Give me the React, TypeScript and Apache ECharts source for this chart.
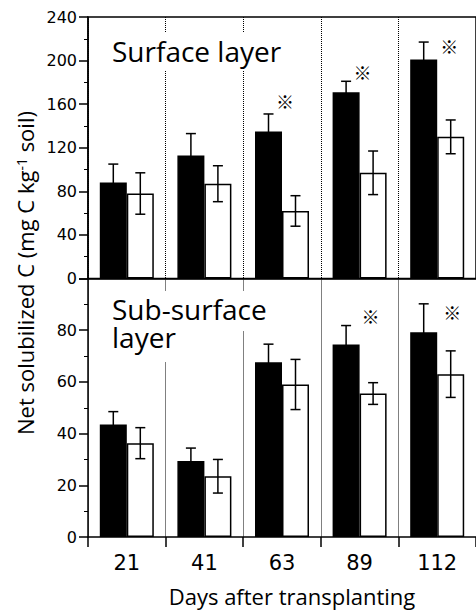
import React, { useEffect, useRef } from 'react';
import * as echarts from 'echarts';

// Days after transplanting
const days = ['21', '41', '63', '89', '112'];

// Surface layer: black bars (A) and white bars (B), means and standard errors
const surfaceMeanA = [88, 113, 135, 171, 201];
const surfaceErrA = [17, 20, 16, 10, 16];
const surfaceMeanB = [78, 87, 62, 97, 130];
const surfaceErrB = [19, 16.5, 14, 20, 15.5];
const surfaceSig = [false, false, true, true, true];

// Sub-surface layer
const subMeanA = [43.5, 29.4, 67.6, 74.5, 79.2];
const subErrA = [5, 5, 7, 7.3, 11];
const subMeanB = [36.3, 23.5, 59, 55.5, 63];
const subErrB = [6, 6.5, 9.7, 4.2, 9];
const subSig = [false, false, false, true, true];

// Axis ranges
const surfaceMax = 240;
const surfaceStep = 40;
const subMax = 100;
const subStep = 20;

// Styles
const BAR_W = 27;
const CAP = 5;
const NUM_FONT = 'DejaVu Sans';
const TXT_FONT = 'Open Sans';
const surfaceSigOffsets: Record<number, [number, number]> = { 2: [3, -13], 3: [3, -9], 4: [12, 4] };
const subSigOffsets: Record<number, [number, number]> = { 3: [11, -10], 4: [15, 8] };

function barSeries(xi: number, yi: number, data: number[], fill: string) {
  return {
    type: 'bar',
    xAxisIndex: xi,
    yAxisIndex: yi,
    data,
    barWidth: BAR_W,
    barGap: '0%',
    itemStyle: { color: fill, borderColor: '#000', borderWidth: 1.5 },
    silent: true,
  };
}

function errorSeries(xi: number, yi: number, means: number[], errs: number[], offset: number) {
  return {
    type: 'custom',
    xAxisIndex: xi,
    yAxisIndex: yi,
    z: 5,
    silent: true,
    data: means.map((m, i) => [i, m, errs[i]]),
    encode: { x: 0, y: 1 },
    renderItem: (_params: any, api: any) => {
      const i = api.value(0);
      const m = api.value(1);
      const e = api.value(2);
      const hi = api.coord([i, m + e]);
      const lo = api.coord([i, m - e]);
      const x = hi[0] + offset;
      const st = { stroke: '#000', lineWidth: 1.5 };
      return {
        type: 'group',
        children: [
          { type: 'line', shape: { x1: x, y1: hi[1], x2: x, y2: lo[1] }, style: st },
          { type: 'line', shape: { x1: x - CAP, y1: hi[1], x2: x + CAP, y2: hi[1] }, style: st },
          { type: 'line', shape: { x1: x - CAP, y1: lo[1], x2: x + CAP, y2: lo[1] }, style: st },
        ],
      };
    },
  };
}

function sigSeries(
  xi: number,
  yi: number,
  sig: boolean[],
  means: number[],
  errs: number[],
  offsets: Record<number, [number, number]>
) {
  const data: number[][] = [];
  sig.forEach((s, i) => {
    if (s) data.push([i, means[i] + errs[i]]);
  });
  return {
    type: 'custom',
    xAxisIndex: xi,
    yAxisIndex: yi,
    z: 6,
    silent: true,
    data,
    encode: { x: 0, y: 1 },
    renderItem: (_params: any, api: any) => {
      const i = api.value(0);
      const p = api.coord([i, api.value(1)]);
      const o = offsets[i] || [0, -10];
      return {
        type: 'text',
        x: p[0] + o[0],
        y: p[1] + o[1],
        style: {
          text: '※',
          font: '18px "Noto Sans CJK JP", sans-serif',
          fill: '#000',
          align: 'center',
          verticalAlign: 'middle',
        },
      };
    },
  };
}

const axisLine = { show: true, lineStyle: { color: '#000', width: 1.5 } };
const dotted = { show: true, lineStyle: { type: 'dotted', color: '#000', width: 1 } };

export default function App() {
  const ref = useRef<HTMLDivElement>(null);

  useEffect(() => {
    if (!ref.current) return;
    const chart = echarts.init(ref.current, undefined, { renderer: 'svg' });
    const yCommon = {
      type: 'value',
      min: 0,
      axisLine,
      axisTick: { show: true, length: 9, lineStyle: { color: '#000', width: 1.5 } },
      minorTick: { show: true, splitNumber: 2, length: 4, lineStyle: { color: '#000', width: 1 } },
      splitLine: { show: false },
    };
    const mask = (x: number, y: number, width: number, height: number) => ({
      type: 'rect',
      z: 9,
      shape: { x, y, width, height },
      style: { fill: '#fff' },
      silent: true,
    });
    chart.setOption({
      animation: false,
      backgroundColor: '#fff',
      grid: [
        { left: 88, top: 17, right: -2, height: 261.5, show: true, borderColor: '#000', borderWidth: 1.5 },
        { left: 88, top: 278.5, right: -2, height: 258.5 },
      ],
      xAxis: [
        {
          gridIndex: 0,
          type: 'category',
          data: days,
          axisLine,
          axisTick: { show: false },
          axisLabel: { show: false },
          splitLine: dotted,
        },
        {
          gridIndex: 1,
          type: 'category',
          data: days,
          axisLine,
          axisTick: { show: true, length: 10, lineStyle: { color: '#000', width: 1.5 } },
          axisLabel: { fontFamily: NUM_FONT, fontSize: 21, color: '#000', margin: 15 },
          splitLine: dotted,
        },
      ],
      yAxis: [
        {
          ...yCommon,
          gridIndex: 0,
          max: surfaceMax,
          interval: surfaceStep,
          axisLabel: { fontFamily: NUM_FONT, fontSize: 16, color: '#000', margin: 11 },
        },
        {
          ...yCommon,
          gridIndex: 1,
          max: subMax,
          interval: subStep,
          axisLabel: {
            fontFamily: NUM_FONT,
            fontSize: 16,
            color: '#000',
            margin: 11,
            formatter: (v: number) => (v === subMax ? '' : String(v)),
          },
        },
      ],
      series: [
        barSeries(0, 0, surfaceMeanA, '#000'),
        barSeries(0, 0, surfaceMeanB, '#fff'),
        errorSeries(0, 0, surfaceMeanA, surfaceErrA, -BAR_W / 2),
        errorSeries(0, 0, surfaceMeanB, surfaceErrB, BAR_W / 2),
        sigSeries(0, 0, surfaceSig, surfaceMeanA, surfaceErrA, surfaceSigOffsets),
        barSeries(1, 1, subMeanA, '#000'),
        barSeries(1, 1, subMeanB, '#fff'),
        errorSeries(1, 1, subMeanA, subErrA, -BAR_W / 2),
        errorSeries(1, 1, subMeanB, subErrB, BAR_W / 2),
        sigSeries(1, 1, subSig, subMeanA, subErrA, subSigOffsets),
      ],
      graphic: [
        mask(106, 33, 186, 38),
        mask(106, 291, 166, 40),
        mask(106, 331, 80, 31),
        {
          type: 'text',
          z: 10,
          x: 112,
          y: 51,
          style: {
            text: 'Surface layer',
            font: `28px "${TXT_FONT}"`,
            fill: '#000',
            verticalAlign: 'middle',
          },
        },
        {
          type: 'text',
          z: 10,
          x: 112,
          y: 323,
          style: {
            text: 'Sub-surface\nlayer',
            font: `28px "${TXT_FONT}"`,
            lineHeight: 28.5,
            fill: '#000',
            verticalAlign: 'middle',
          },
        },
        {
          type: 'text',
          z: 10,
          x: 25,
          y: 273,
          rotation: Math.PI / 2,
          style: {
            text: 'Net solubilized C (mg C kg{sup|-1} soil)',
            font: `22px "${TXT_FONT}"`,
            fill: '#000',
            align: 'center',
            verticalAlign: 'middle',
            rich: {
              sup: { fontSize: 14, fontFamily: TXT_FONT, verticalAlign: 'top', fill: '#000' },
            },
          },
        },
        {
          type: 'text',
          z: 10,
          x: 292,
          y: 596,
          style: {
            text: 'Days after transplanting',
            font: `22px "${TXT_FONT}"`,
            fill: '#000',
            align: 'center',
            verticalAlign: 'middle',
          },
        },
      ],
    });
    return () => chart.dispose();
  }, []);

  return (
    <div
      ref={ref}
      style={{ position: 'absolute', left: 0, top: 0, width: 476, height: 612 }}
    />
  );
}
